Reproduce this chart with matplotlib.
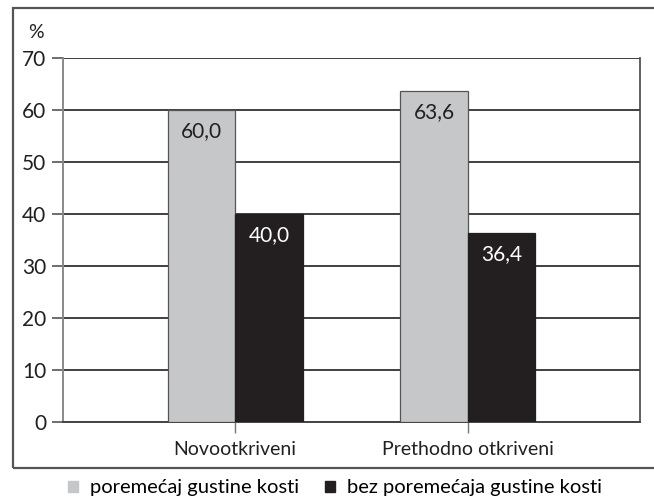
import matplotlib
matplotlib.use("Agg")
import matplotlib.pyplot as plt
from matplotlib.patches import Rectangle, Patch

plt.rcParams['font.family'] = ['Lato', 'DejaVu Sans']

categories = ["Novootkriveni", "Prethodno otkriveni"]
series_names = ["poremećaj gustine kosti", "bez poremećaja gustine kosti"]
with_disorder = [60.0, 63.6]
without_disorder = [40.0, 36.4]
y_ticks = [0, 10, 20, 30, 40, 50, 60, 70]

gray = "#c6c7c9"
black = "#231f20"

fig = plt.figure(figsize=(6.54, 4.99), dpi=100)
W, H = 654, 499
ax = fig.add_axes([63 / W, 1 - 422 / H, (640 - 63) / W, (422 - 58) / H])

x = list(range(len(categories)))
bw = 0.29
b1 = ax.bar([i - bw / 2 for i in x], with_disorder, bw, color=gray,
            edgecolor="#555555", linewidth=0.9, zorder=3)
b2 = ax.bar([i + bw / 2 for i in x], without_disorder, bw, color=black,
            edgecolor=black, linewidth=0.9, zorder=3)

for bars, vals, tc in ((b1, with_disorder, "#231f20"), (b2, without_disorder, "white")):
    for r, v in zip(bars, vals):
        ax.annotate(f"{v:.1f}".replace(".", ","),
                    (r.get_x() + r.get_width() / 2, v),
                    xytext=(0, -8), textcoords="offset points",
                    ha="center", va="top", color=tc, fontsize=15, zorder=4)

ax.set_xlim(-0.74, 1.74)
ax.set_ylim(0, 70)
ax.set_yticks(y_ticks)
ax.set_yticklabels([str(t) for t in y_ticks], fontsize=15, color="#231f20")
ax.set_xticks(x)
ax.set_xticklabels(categories, fontsize=14, color="#231f20")
ax.yaxis.grid(True, color="#231f20", linewidth=1.2, zorder=1)
ax.set_axisbelow(True)
ax.tick_params(axis="y", length=8, width=1.2, color="#555555", pad=4)
ax.tick_params(axis="x", length=8, width=1.0, color="#777777", pad=6)
ax.spines["top"].set_visible(False)
ax.spines["left"].set_color("#8a8a8a")
ax.spines["left"].set_linewidth(1.4)
ax.spines["right"].set_color("#444444")
ax.spines["right"].set_linewidth(1.2)
ax.spines["bottom"].set_color("#444444")
ax.spines["bottom"].set_linewidth(1.4)

fig.text(28 / W, 1 - 32 / H, "%", fontsize=14, ha="left", va="center", color="#231f20")

# outer frame around the plot region
fig.patches.append(Rectangle((13 / W, 1 - 468 / H), 1.0, (468 - 8) / H,
                             transform=fig.transFigure, fill=False,
                             edgecolor="#555555", linewidth=1.6, clip_on=False))

handles = [Patch(facecolor=gray, edgecolor=gray), Patch(facecolor=black, edgecolor=black)]
fig.legend(handles, series_names, loc="center", bbox_to_anchor=(335 / W, 1 - 488 / H),
           ncol=2, frameon=False, fontsize=14.5, handlelength=0.5, handleheight=0.5,
           handletextpad=0.6, columnspacing=1.3, borderpad=0)

fig.savefig("out.png", dpi=100)
